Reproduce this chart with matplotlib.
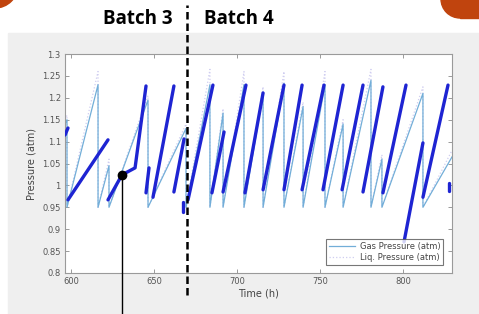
import numpy as np
import matplotlib
matplotlib.use("Agg")
import matplotlib.pyplot as plt
from matplotlib.patches import Rectangle, Circle
from matplotlib.transforms import Affine2D

# gas pressure sawtooth (vertex list: ramp tops and drops)
gas_t = [596.5, 597.6, 597.6, 616.3, 616.3, 622.9, 622.9, 646.4, 646.4, 669.3,
         669.3, 683.7, 683.7, 691.6, 691.6, 704.2, 704.2, 715.7, 715.7, 728.3,
         728.3, 739.8, 739.8, 753.0, 753.0, 763.9, 763.9, 780.7, 780.7, 787.3,
         787.3, 812.0, 812.0, 829.5]
gas_p = [1.14, 1.15, 0.95, 1.23, 0.95, 1.045, 0.95, 1.195, 0.95, 1.13,
         0.95, 1.23, 0.95, 1.165, 0.95, 1.23, 0.95, 1.21, 0.95, 1.233,
         0.95, 1.18, 0.95, 1.23, 0.95, 1.14, 0.95, 1.24, 0.95, 1.06,
         0.95, 1.21, 0.95, 1.065]
# liquid pressure follows the gas, peaks a bit higher
liq_p = [1.15, 1.16, 0.95, 1.26, 0.95, 1.06, 0.95, 1.205, 0.95, 1.14,
         0.95, 1.265, 0.95, 1.175, 0.95, 1.26, 0.95, 1.225, 0.95, 1.26,
         0.95, 1.19, 0.95, 1.26, 0.95, 1.15, 0.95, 1.265, 0.95, 1.07,
         0.95, 1.225, 0.95, 1.08]

# measured (dark blue) segments: (times, pressures)
meas = [
    ([596.4, 598.2], [1.115, 1.131]),
    ([598.2, 622.3], [0.967, 1.104]),
    ([622.3, 630.7, 638.6, 645.2], [0.967, 1.024, 1.040, 1.227]),
    ([645.2, 647.0], [0.983, 1.040]),
    ([649.4, 662.0], [0.973, 1.227]),
    ([662.0, 668.1], [0.985, 1.106]),
    ([667.5, 667.5], [0.962, 0.939]),
    ([670.5, 685.5], [0.967, 1.229]),
    ([684.9, 692.2], [0.983, 1.122]),
    ([691.6, 705.4], [0.985, 1.229]),
    ([704.8, 715.7], [0.983, 1.211]),
    ([715.7, 728.3], [0.990, 1.229]),
    ([728.3, 739.2], [0.990, 1.229]),
    ([739.2, 752.4], [0.990, 1.229]),
    ([751.8, 763.9], [0.990, 1.229]),
    ([763.3, 775.9], [0.990, 1.229]),
    ([775.9, 787.9], [0.985, 1.225]),
    ([787.9, 801.8], [0.983, 1.229]),
    ([800.6, 812.0], [0.871, 1.097]),
    ([812.0, 827.1], [0.973, 1.229]),
    ([827.7, 827.7], [1.005, 0.987]),
]

batch_split = 669.9
marker_t, marker_p = 630.7, 1.024

W, H = 479, 314
fig = plt.figure(figsize=(W / 100, H / 100), dpi=100)
fig.patch.set_facecolor("white")
# pixel coords, y pointing down like the screenshot
px = Affine2D().scale(1 / W, -1 / H).translate(0, 1) + fig.transFigure

orange = "#c0440e"
fig.patches.append(Rectangle((8, 33), 480, 290, transform=px, color="#efefef", zorder=0))
fig.patches.append(Circle((-5, -15), 23, transform=px, color=orange, zorder=0))
fig.patches.append(Circle((460, -1), 19, transform=px, color=orange, zorder=0))
fig.patches.append(Rectangle((460, -2), 30, 20, transform=px, color=orange, zorder=0))

ax = fig.add_axes([65 / W, (H - 273) / H, (452 - 65) / W, (273 - 54) / H], zorder=2)
ax.set_facecolor("white")

ax.plot(gas_t, gas_p, color="#72aed8", lw=0.9, label="Gas Pressure (atm)", zorder=2)
ax.plot(gas_t, liq_p, color="#cfcdf0", lw=0.9, ls=":", label="Liq. Pressure (atm)", zorder=1)
for ts, ps in meas:
    ax.plot(ts, ps, color="#1e24d2", lw=2.4, solid_capstyle="round", zorder=3)

ax.set_xlim(596.4, 829.5)
ax.set_ylim(0.8, 1.3)
ax.set_xticks([600, 650, 700, 750, 800])
yt = [0.8, 0.85, 0.9, 0.95, 1.0, 1.05, 1.1, 1.15, 1.2, 1.25, 1.3]
ax.set_yticks(yt)
ax.set_yticklabels(["0.8", "0.85", "0.9", "0.95", "1", "1.05", "1.1", "1.15",
                    "1.2", "1.25", "1.3"])
ax.tick_params(direction="in", top=True, right=True, length=3, width=0.6,
               labelsize=6, colors="#8a8a8a", labelcolor="#555555", pad=3)
for s in ax.spines.values():
    s.set_color("#9a9a9a")
    s.set_linewidth(0.8)
ax.set_xlabel("Time (h)", fontsize=7, color="#444444", labelpad=2)
ax.set_ylabel("Pressure (atm)", fontsize=7, color="#444444", labelpad=4)

leg = ax.legend(loc="lower right", bbox_to_anchor=(0.977, 0.0365), borderaxespad=0,
                fontsize=6, frameon=True, fancybox=False, handlelength=3.2,
                borderpad=0.35, labelspacing=0.3, handletextpad=0.5)
leg.get_frame().set_edgecolor("#555555")
leg.get_frame().set_linewidth(0.8)
for t in leg.get_texts():
    t.set_color("#444444")

# batch divider and annotation
ax.axvline(batch_split, ymin=(273 - 295) / 219, ymax=(273 - 5) / 219, color="black",
           lw=1.8, ls=(0, (3, 1.6)), clip_on=False, zorder=5)
ax.axvline(marker_t, ymin=(273 - 316) / 219, ymax=(marker_p - 0.8) / 0.5, color="black",
           lw=1.0, clip_on=False, zorder=5)
ax.plot(marker_t, marker_p, "o", color="black", ms=6, zorder=6, clip_on=False)

fig.text(137.5 / W, 1 - 19 / H, "Batch 3", ha="center", va="center", fontsize=13.5,
         fontweight="bold", family="Open Sans")
fig.text(239 / W, 1 - 19 / H, "Batch 4", ha="center", va="center", fontsize=13.5,
         fontweight="bold", family="Open Sans")

fig.savefig("out.png", dpi=100)
